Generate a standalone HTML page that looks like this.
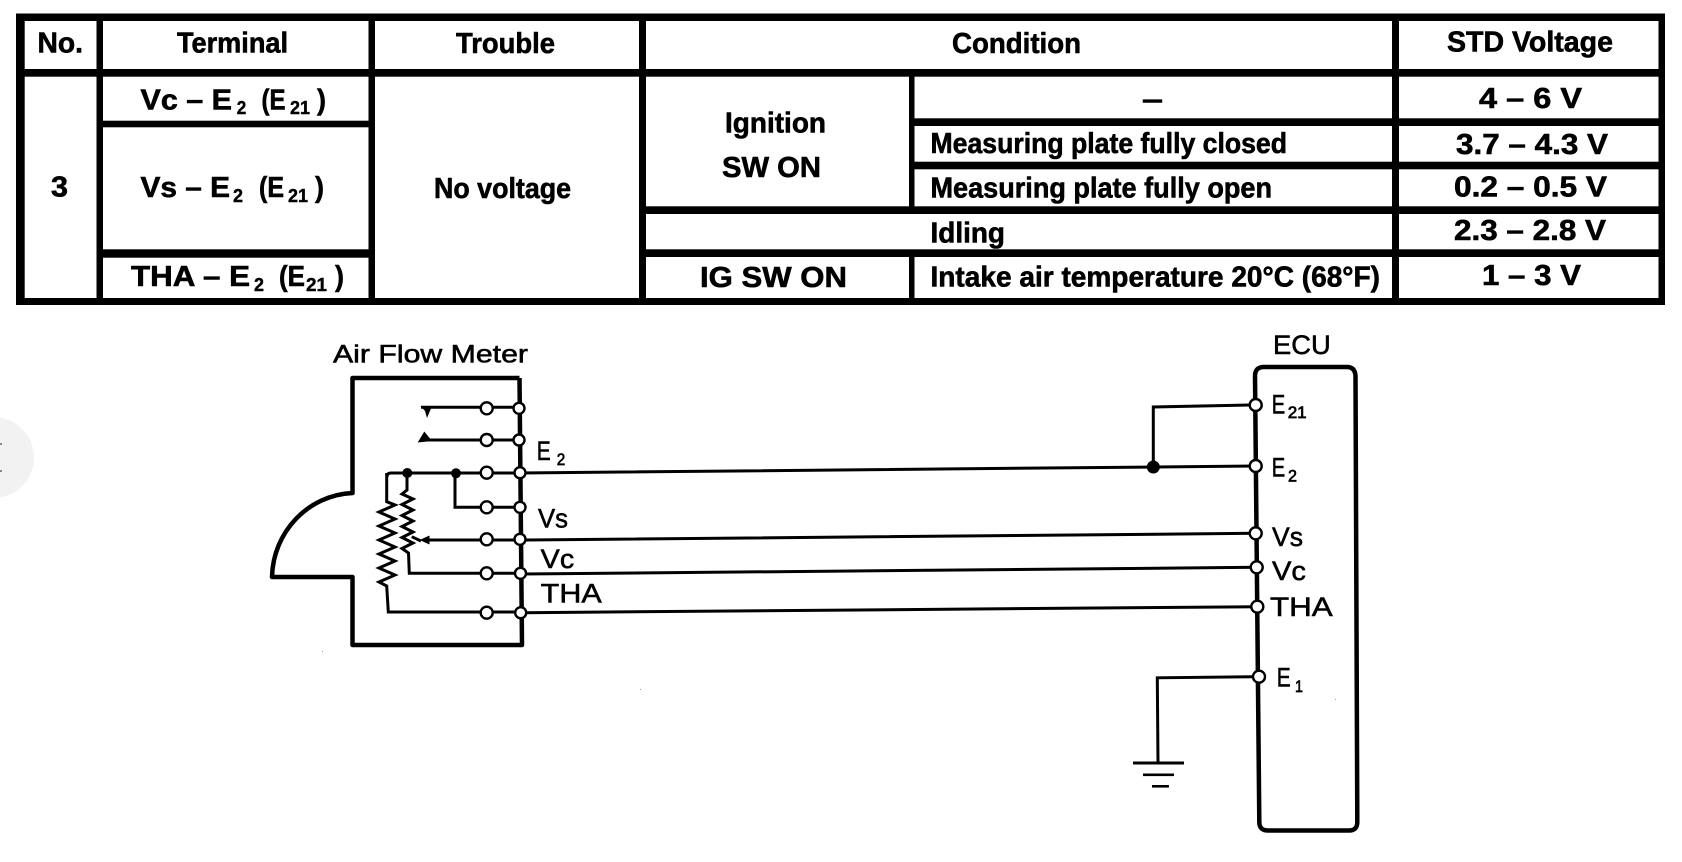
<!DOCTYPE html>
<html><head><meta charset="utf-8"><style>
html,body{margin:0;padding:0;background:#fff;width:1682px;height:862px;overflow:hidden}
svg{display:block}
.t{font-family:"Liberation Sans",sans-serif;font-weight:700;font-size:29px;fill:#000;stroke:#000;stroke-width:.6}
.s{font-family:"Liberation Sans",sans-serif;font-weight:700;font-size:18px;fill:#000;stroke:#000;stroke-width:.4}
.d{font-family:"Liberation Sans",sans-serif;font-size:27px;fill:#000;stroke:#000;stroke-width:.55}
.ds{font-family:"Liberation Sans",sans-serif;font-size:17px;fill:#000;stroke:#000;stroke-width:.7}
.w{fill:none;stroke:#000;stroke-width:3}
.h{fill:none;stroke:#000;stroke-width:4.5;stroke-linejoin:round}
.c{fill:#fff;stroke:#000;stroke-width:2.4}
</style></head><body>
<svg width="1682" height="862" viewBox="0 0 1682 862" xmlns="http://www.w3.org/2000/svg">
<rect width="1682" height="862" fill="#fff"/>
<circle cx="-6.5" cy="457.5" r="40.5" fill="#f2f2f2"/>
<rect x="0" y="443" width="2" height="2" fill="#888"/><rect x="0" y="470" width="2" height="2" fill="#888"/>

<!-- table -->
<rect x="16" y="13.5" width="1649" height="291.5" fill="#000"/>
<g fill="#fff">
<rect x="24.7" y="21" width="71.8" height="48"/>
<rect x="103" y="21" width="265.5" height="48"/>
<rect x="375" y="21" width="264" height="48"/>
<rect x="646" y="21" width="746" height="48"/>
<rect x="1399" y="21" width="259.5" height="48"/>
<rect x="24.7" y="76.7" width="71.8" height="221.3"/>
<rect x="103" y="76.7" width="265.5" height="44"/>
<rect x="103" y="127.3" width="265.5" height="122"/>
<rect x="103" y="257.7" width="265.5" height="40.3"/>
<rect x="375" y="76.7" width="264" height="221.3"/>
<rect x="646" y="76.7" width="263" height="129.6"/>
<rect x="914.5" y="76.7" width="477.5" height="41.6"/>
<rect x="914.5" y="126" width="477.5" height="35.7"/>
<rect x="914.5" y="169.3" width="477.5" height="37"/>
<rect x="646" y="214" width="746" height="35.3"/>
<rect x="646" y="257" width="263" height="41"/>
<rect x="914.5" y="257" width="477.5" height="41"/>
<rect x="1399" y="76.7" width="259.5" height="41.6"/>
<rect x="1399" y="126" width="259.5" height="35.7"/>
<rect x="1399" y="169.3" width="259.5" height="37"/>
<rect x="1399" y="214" width="259.5" height="35.3"/>
<rect x="1399" y="257" width="259.5" height="41"/>
</g>

<g class="t">
<text x="37.5" y="52.7" textLength="45.5" lengthAdjust="spacingAndGlyphs">No.</text>
<text x="177" y="52.7" textLength="111" lengthAdjust="spacingAndGlyphs">Terminal</text>
<text x="456" y="53" textLength="99" lengthAdjust="spacingAndGlyphs">Trouble</text>
<text x="952" y="53" textLength="129" lengthAdjust="spacingAndGlyphs">Condition</text>
<text x="1447" y="51.7" textLength="166" lengthAdjust="spacingAndGlyphs">STD Voltage</text>
<text x="51" y="196.7" textLength="17" lengthAdjust="spacingAndGlyphs">3</text>

<text x="140.5" y="109.3" textLength="91.5" lengthAdjust="spacingAndGlyphs">Vc – E</text>
<text x="261.5" y="109.3" textLength="24" lengthAdjust="spacingAndGlyphs">(E</text>
<text x="317" y="109.3" textLength="9" lengthAdjust="spacingAndGlyphs">)</text>

<text x="140.5" y="197" textLength="89.5" lengthAdjust="spacingAndGlyphs">Vs – E</text>
<text x="259" y="197" textLength="25" lengthAdjust="spacingAndGlyphs">(E</text>
<text x="315" y="197" textLength="9" lengthAdjust="spacingAndGlyphs">)</text>

<text x="131" y="286" textLength="119" lengthAdjust="spacingAndGlyphs">THA – E</text>
<text x="279" y="286" textLength="26" lengthAdjust="spacingAndGlyphs">(E</text>
<text x="335" y="286" textLength="9" lengthAdjust="spacingAndGlyphs">)</text>

<text x="434" y="198" textLength="137" lengthAdjust="spacingAndGlyphs">No voltage</text>
<text x="725" y="132.3" textLength="101" lengthAdjust="spacingAndGlyphs">Ignition</text>
<text x="722" y="177" textLength="99" lengthAdjust="spacingAndGlyphs">SW  ON</text>
<text x="700" y="287" textLength="147" lengthAdjust="spacingAndGlyphs">IG SW ON</text>
<text x="1142" y="109" textLength="21" lengthAdjust="spacingAndGlyphs">–</text>
<text x="930.5" y="153" textLength="356.5" lengthAdjust="spacingAndGlyphs">Measuring plate fully closed</text>
<text x="930.5" y="197.7" textLength="341.5" lengthAdjust="spacingAndGlyphs">Measuring plate fully open</text>
<text x="930.5" y="242.7" textLength="74.5" lengthAdjust="spacingAndGlyphs">Idling</text>
<text x="930.5" y="286.7" textLength="449.5" lengthAdjust="spacingAndGlyphs">Intake air temperature 20°C (68°F)</text>
<text x="1479" y="108" textLength="103" lengthAdjust="spacingAndGlyphs">4 – 6 V</text>
<text x="1456" y="154" textLength="152" lengthAdjust="spacingAndGlyphs">3.7 – 4.3 V</text>
<text x="1454" y="196.7" textLength="153" lengthAdjust="spacingAndGlyphs">0.2 – 0.5 V</text>
<text x="1454" y="240" textLength="152" lengthAdjust="spacingAndGlyphs">2.3 – 2.8 V</text>
<text x="1482" y="285" textLength="99" lengthAdjust="spacingAndGlyphs">1 – 3 V</text>
</g>
<g class="s">
<text x="236.7" y="114" textLength="9.5" lengthAdjust="spacingAndGlyphs">2</text>
<text x="290" y="114" textLength="20" lengthAdjust="spacingAndGlyphs">21</text>
<text x="233" y="202" textLength="10" lengthAdjust="spacingAndGlyphs">2</text>
<text x="288" y="202" textLength="20" lengthAdjust="spacingAndGlyphs">21</text>
<text x="254" y="291" textLength="10" lengthAdjust="spacingAndGlyphs">2</text>
<text x="306" y="291" textLength="21" lengthAdjust="spacingAndGlyphs">21</text>
</g>

<!-- air flow meter housing -->
<path class="h" d="M519.5 378 H352.5 V493 C308 495 273 532 272 577 H352.5 V645 H522 L519.5 378"/>
<!-- wires -->
<path class="w" d="M421 407.3 H519"/>
<path class="w" d="M420 440 H519"/>
<path class="w" d="M387 477 Q387 473 391 473 H520 L1255.7 466"/>
<path class="w" d="M455 473 V507.3 H519"/>
<path class="w" d="M386.7 473 V501.7 L395 505 379 512 395 519 379 526 395 533 379 540 395 547 379 554 395 561 379 568 395 575 379 582 386.7 586 L388.3 612 H519"/>
<path class="w" d="M407 473 V490 L402 494 413 499 402 504.5 413 510 402 515.5 413 521 402 526.5 413 532 402 537.5 413 543 402 548.5 408.5 553 L409.3 573.3 H519"/>
<path class="w" d="M411.7 536.7 L421 541"/>
<path class="w" d="M429 540 H527 L1255.7 533.3"/>
<path class="w" d="M523 574 L1256.7 567.3"/>
<path class="w" d="M523 612.7 L1257.3 606.7"/>
<polygon points="420.5,406 432,406 427,418 425,411"/>
<polygon points="417.7,442.5 432,441 424.3,431.5"/>
<polygon points="429.5,535.5 429.5,544.5 419.5,540"/>
<circle cx="407.3" cy="473" r="5"/><circle cx="456" cy="473.3" r="5"/>
<g class="c">
<circle cx="486.7" cy="408.3" r="6"/><circle cx="486.7" cy="440" r="6"/><circle cx="486.7" cy="472.7" r="6"/><circle cx="486.7" cy="507.3" r="6"/><circle cx="486.7" cy="539.3" r="6"/><circle cx="486.7" cy="573.3" r="6"/><circle cx="486.7" cy="612.7" r="6"/>
<circle cx="519" cy="408.3" r="5.5"/><circle cx="519" cy="440" r="5.5"/><circle cx="520" cy="472.7" r="5.5"/><circle cx="520" cy="507.3" r="5.5"/><circle cx="520" cy="539.3" r="5.5"/><circle cx="520.5" cy="573.3" r="5.5"/><circle cx="520.7" cy="612.7" r="5.5"/>
</g>

<!-- ECU -->
<path class="h" d="M1255 376 Q1255 367 1264 367 H1347 Q1355 367 1355.5 376 L1357.3 822 Q1357.3 830.5 1349 830.5 H1268 Q1259.3 830.5 1259.3 822 Z"/>
<path class="w" d="M1250 405 L1153.3 407 V466.8"/>
<path class="w" d="M1252 676.7 L1157.3 677.8 L1158 763"/>
<circle cx="1153.3" cy="467" r="6.5"/>
<rect x="1133" y="761.5" width="51" height="3"/>
<rect x="1143" y="773.5" width="31" height="2.6"/>
<rect x="1152" y="785" width="17" height="2.6"/>
<g class="c">
<circle cx="1255.7" cy="405" r="6"/><circle cx="1255.7" cy="466" r="6"/><circle cx="1255.7" cy="533.3" r="6"/><circle cx="1256.7" cy="567.3" r="6"/><circle cx="1257.3" cy="606.7" r="6"/><circle cx="1259" cy="676.7" r="6"/>
</g>

<!-- labels -->
<g class="d">
<text x="333" y="362.3" textLength="195" lengthAdjust="spacingAndGlyphs" style="font-size:25px">Air Flow Meter</text>
<text x="536.7" y="460" textLength="14" lengthAdjust="spacingAndGlyphs">E</text>
<text x="538" y="527.7" textLength="30" lengthAdjust="spacingAndGlyphs">Vs</text>
<text x="540.7" y="568" textLength="33.5" lengthAdjust="spacingAndGlyphs">Vc</text>
<text x="540.7" y="602.7" textLength="61" lengthAdjust="spacingAndGlyphs">THA</text>
<text x="1273" y="354" textLength="57.7" lengthAdjust="spacingAndGlyphs">ECU</text>
<text x="1271.7" y="413.3" textLength="13.5" lengthAdjust="spacingAndGlyphs">E</text>
<text x="1271.7" y="476.7" textLength="13.5" lengthAdjust="spacingAndGlyphs">E</text>
<text x="1272" y="546" textLength="31" lengthAdjust="spacingAndGlyphs">Vs</text>
<text x="1272" y="580" textLength="34" lengthAdjust="spacingAndGlyphs">Vc</text>
<text x="1270" y="616" textLength="62.7" lengthAdjust="spacingAndGlyphs">THA</text>
<text x="1276.7" y="686.7" textLength="14" lengthAdjust="spacingAndGlyphs">E</text>
</g>
<g class="ds">
<text x="556.7" y="465" textLength="8.5" lengthAdjust="spacingAndGlyphs">2</text>
<text x="1287.7" y="418" textLength="19" lengthAdjust="spacingAndGlyphs">21</text>
<text x="1288" y="481.7" textLength="9" lengthAdjust="spacingAndGlyphs">2</text>
<text x="1295" y="692" textLength="8" lengthAdjust="spacingAndGlyphs">1</text>
</g>
<g fill="#999">
<rect x="322" y="651" width="1" height="1"/><rect x="640" y="689" width="1" height="1"/><rect x="1335" y="699" width="1" height="1"/>
</g>
</svg>
</body></html>
